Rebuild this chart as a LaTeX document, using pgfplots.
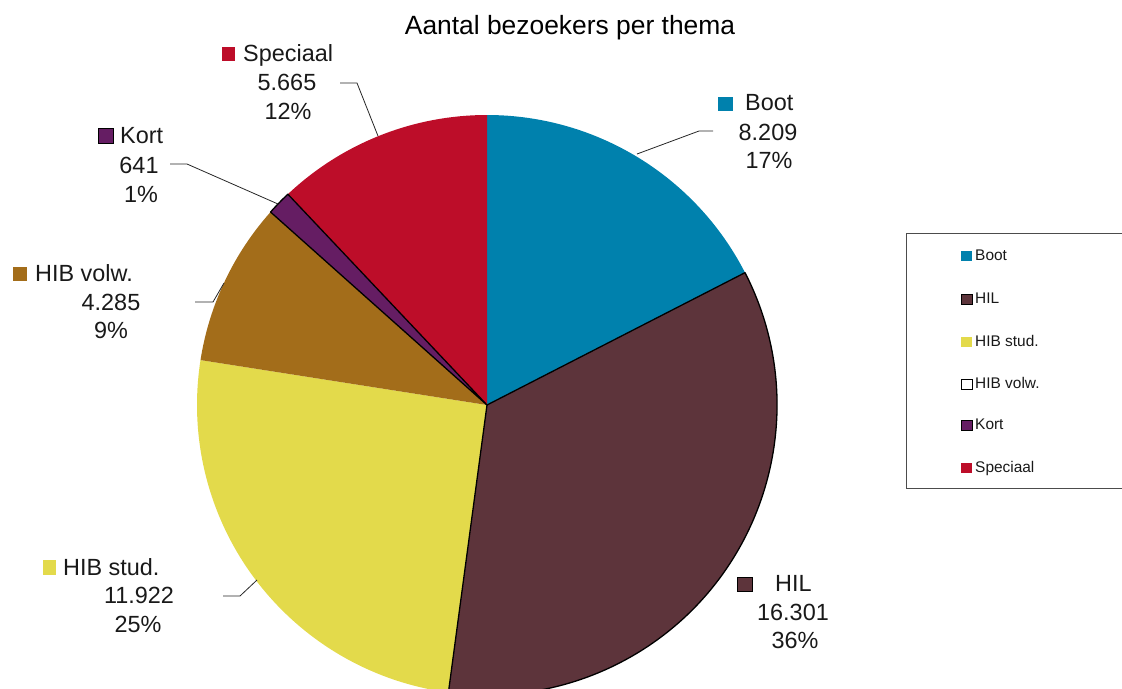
\documentclass[border=0pt]{standalone}
\usepackage{pgfplots}
\usepackage{pgfplotstable}
\pgfplotsset{compat=1.18}
\usepackage{fontspec}
\setmainfont{Liberation Sans}

\definecolor{c0}{HTML}{0081AD}% Boot
\definecolor{c1}{HTML}{5D343B}% HIL
\definecolor{c2}{HTML}{E3DA4B}% HIB stud.
\definecolor{c3}{HTML}{A36D1A}% HIB volw.
\definecolor{c4}{HTML}{651D63}% Kort
\definecolor{c5}{HTML}{BD0D29}% Speciaal

% Aantal bezoekers per thema
\pgfplotstableread{
thema    value
Boot     8209
HIL      16301
HIBstud  11922
HIBvolw  4285
Kort     641
Speciaal 5665
}\bezoekers

% totaal (in duizenden, pgfmath kan niet boven 16383)
\def\total{0}
\foreach \i in {0,...,5}{%
  \pgfplotstablegetelem{\i}{value}\of\bezoekers
  \pgfmathsetmacro\tmp{\total+\pgfplotsretval/1000}%
  \global\let\total\tmp
}
% hoeken: start bovenaan, met de klok mee
\def\cum{0}
\foreach \i in {0,...,5}{%
  \pgfplotstablegetelem{\i}{value}\of\bezoekers
  \pgfmathsetmacro\a{90-360*(\cum/\total)}%
  \pgfmathsetmacro\newcum{\cum+\pgfplotsretval/1000}%
  \pgfmathsetmacro\b{90-360*(\newcum/\total)}%
  \expandafter\xdef\csname sa\i\endcsname{\a}%
  \expandafter\xdef\csname ea\i\endcsname{\b}%
  \global\let\cum\newcum
}

\tikzset{
  lab/.style={font=\fontsize{23.5}{28}\selectfont, inner sep=0pt, text=black!90},
  leg/.style={font=\fontsize{15.5}{18}\selectfont, inner sep=0pt, text=black!90},
  leader/.style={black!85, line width=0.8bp},
}

\begin{document}
\begin{tikzpicture}
\useasboundingbox (0,0) rectangle (1122bp,689bp);
\begin{axis}[
    at={(0,0)}, anchor=south west,
    x=1bp, y=1bp,
    xmin=0, xmax=1122, ymin=0, ymax=689,
    y dir=reverse,
    hide axis, clip=false,
]
% taartpunten
\pgfplotsinvokeforeach{0,...,5}{
  \edef\temp{\noexpand\fill[c#1] (axis cs:487,405) -- ++(\csname sa#1\endcsname:290bp)
    arc[start angle=\csname sa#1\endcsname, end angle=\csname ea#1\endcsname, radius=290bp] -- cycle;}
  \temp
}
% randen van HIL en Kort
\pgfplotsinvokeforeach{1,4}{
  \edef\temp{\noexpand\draw[black, line width=1.3bp, line join=round] (axis cs:487,405) -- ++(\csname sa#1\endcsname:290bp)
    arc[start angle=\csname sa#1\endcsname, end angle=\csname ea#1\endcsname, radius=290bp] -- cycle;}
  \temp
}

% titel
\node[font=\fontsize{26.5}{31}\selectfont, anchor=base, inner sep=0pt] at (axis cs:570,34) {Aantal bezoekers per thema};

% verbindingslijnen
\draw[leader] (axis cs:340,83) -- (axis cs:357,83) -- (axis cs:378,136);
\draw[leader] (axis cs:713,131) -- (axis cs:699,131) -- (axis cs:637,154);
\draw[leader] (axis cs:170,164) -- (axis cs:187,164) -- (axis cs:278,204);
\draw[leader] (axis cs:195,302) -- (axis cs:213,302) -- (axis cs:224,283);
\draw[leader] (axis cs:223,596) -- (axis cs:240,596) -- (axis cs:257,580);

% labels
\fill[c5] (axis cs:222,47) rectangle (axis cs:235,61);
\node[lab, anchor=base west] at (axis cs:243,61) {Speciaal};
\node[lab, anchor=base] at (axis cs:287,90) {5.665};
\node[lab, anchor=base] at (axis cs:288,119) {12\%};

\fill[c0] (axis cs:718,97) rectangle (axis cs:733,111);
\node[lab, anchor=base west] at (axis cs:745,110) {Boot};
\node[lab, anchor=base] at (axis cs:768,140) {8.209};
\node[lab, anchor=base] at (axis cs:769,168) {17\%};

\filldraw[fill=c1, draw=black, line width=1bp] (axis cs:737,577) rectangle (axis cs:752,591);
\node[lab, anchor=base west] at (axis cs:775,591) {HIL};
\node[lab, anchor=base] at (axis cs:793,620) {16.301};
\node[lab, anchor=base] at (axis cs:795,648) {36\%};

\fill[c2] (axis cs:43,560) rectangle (axis cs:56,575);
\node[lab, anchor=base west] at (axis cs:63,575) {HIB stud.};
\node[lab, anchor=base] at (axis cs:139,603) {11.922};
\node[lab, anchor=base] at (axis cs:138,632) {25\%};

\fill[c3] (axis cs:13,267) rectangle (axis cs:27,281);
\node[lab, anchor=base west] at (axis cs:35,281) {HIB volw.};
\node[lab, anchor=base] at (axis cs:111,310) {4.285};
\node[lab, anchor=base] at (axis cs:111,338) {9\%};

\filldraw[fill=c4, draw=black, line width=1bp] (axis cs:98,128) rectangle (axis cs:113,143);
\node[lab, anchor=base west] at (axis cs:120,143) {Kort};
\node[lab, anchor=base] at (axis cs:139,173) {641};
\node[lab, anchor=base] at (axis cs:141,202) {1\%};

% legenda
\draw[black!70, line width=1bp] (axis cs:906,233) rectangle (axis cs:1132,488);
\fill[c0] (axis cs:961,251) rectangle (axis cs:972,261);
\node[leg, anchor=base west] at (axis cs:975,260) {Boot};
\filldraw[fill=c1, draw=black, line width=0.8bp] (axis cs:961,294) rectangle (axis cs:972,304);
\node[leg, anchor=base west] at (axis cs:975,303) {HIL};
\fill[c2] (axis cs:961,337) rectangle (axis cs:972,347);
\node[leg, anchor=base west] at (axis cs:975,346) {HIB stud.};
\filldraw[fill=white, draw=black, line width=0.8bp] (axis cs:961,379) rectangle (axis cs:972,389);
\node[leg, anchor=base west] at (axis cs:975,388) {HIB volw.};
\filldraw[fill=c4, draw=black, line width=0.8bp] (axis cs:961,420) rectangle (axis cs:972,430);
\node[leg, anchor=base west] at (axis cs:975,429) {Kort};
\fill[c5] (axis cs:961,463) rectangle (axis cs:972,473);
\node[leg, anchor=base west] at (axis cs:975,472) {Speciaal};
\end{axis}
\end{tikzpicture}
\end{document}
